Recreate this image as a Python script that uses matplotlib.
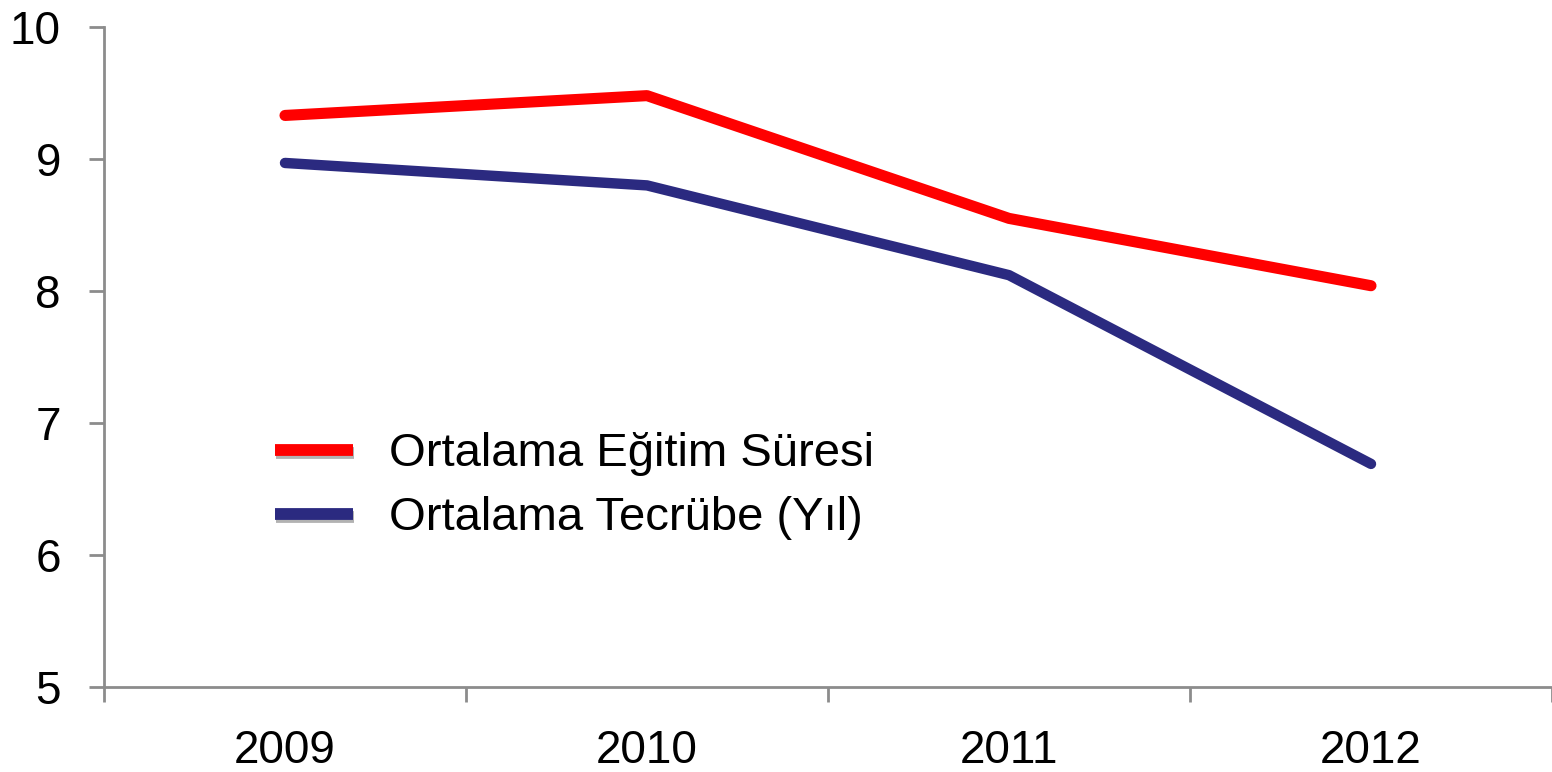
import matplotlib
matplotlib.use('Agg')
import matplotlib.pyplot as plt
import matplotlib.ticker as ticker
import matplotlib.patheffects as pe

years = ['2009', '2010', '2011', '2012']
egitim = [9.33, 9.48, 8.55, 8.04]
tecrube = [8.97, 8.80, 8.12, 6.69]
labels = ['Ortalama Eğitim Süresi', 'Ortalama Tecrübe (Yıl)']

plt.rcParams['font.family'] = ['Liberation Sans', 'DejaVu Sans']

fig = plt.figure(figsize=(15.52, 7.72), dpi=100)
ax = fig.add_axes([104/1552, 1-687/772, 1448/1552, 660/772])

x = range(len(years))
ax.plot(x, egitim, color='#FF0000', lw=8, solid_capstyle='round', label=labels[0])
ax.plot(x, tecrube, color='#2B2A80', lw=7.5, solid_capstyle='round', label=labels[1])

ax.set_xlim(-0.5, len(years) - 0.5)
ax.set_ylim(5, 10)
ax.yaxis.set_major_locator(ticker.MultipleLocator(1))
ax.set_xticks(list(x))
ax.set_xticklabels(years)
ax.xaxis.set_minor_locator(ticker.FixedLocator([i - 0.5 for i in range(len(years) + 1)]))

spine_col = '#8C8C8C'
for s in ['top', 'right']:
    ax.spines[s].set_visible(False)
for s in ['left', 'bottom']:
    ax.spines[s].set_color(spine_col)
    ax.spines[s].set_linewidth(2)

ax.tick_params(axis='x', which='major', length=0, labelsize=33, pad=30)
ax.tick_params(axis='x', which='minor', length=11, width=2, color=spine_col)
ax.tick_params(axis='y', which='major', length=11, width=2, color=spine_col, labelsize=33, pad=20)

leg = ax.legend(loc='upper left', bbox_to_anchor=(0.089, 0.45), frameon=False,
                fontsize=34, handlelength=1.65, handletextpad=0.75, labelspacing=0.42)
for line in leg.get_lines():
    line.set_linewidth(8.5)
    line.set_solid_capstyle('butt')
    line.set_path_effects([pe.SimpleLineShadow(offset=(0.5, -2.5), alpha=0.3), pe.Normal()])

fig.savefig('out.png', dpi=100)
